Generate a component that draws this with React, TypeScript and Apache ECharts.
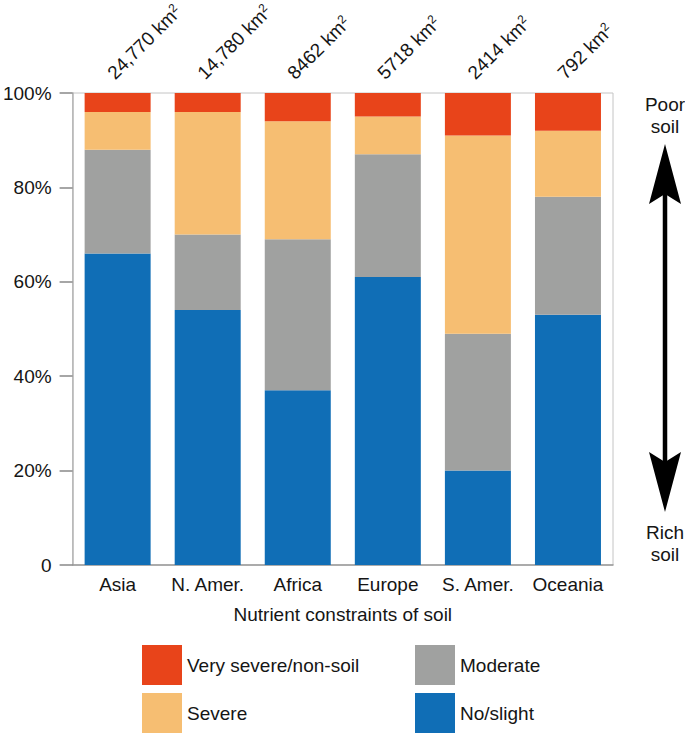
import React, { useEffect, useRef } from "react";
import * as echarts from "echarts";

const categories = ["Asia", "N. Amer.", "Africa", "Europe", "S. Amer.", "Oceania"];
const areaLabels = ["24,770", "14,780", "8462", "5718", "2414", "792"];
const noSlight = [66, 54, 37, 61, 20, 53];
const moderate = [22, 16, 32, 26, 29, 25];
const severe = [8, 26, 25, 8, 42, 14];
const verySevere = [4, 4, 6, 5, 9, 8];
const seriesNames = ["No/slight", "Moderate", "Severe", "Very severe/non-soil"];
const colors = ["#106EB6", "#A0A1A0", "#F6BE72", "#E8441A"];

const FONT = "'Liberation Sans', Arial, Helvetica, sans-serif";
const TXT = "#151515";

export default function App() {
  const ref = useRef<HTMLDivElement>(null);
  useEffect(() => {
    const chart = echarts.init(ref.current!, null, { renderer: "svg" });
    const values = [noSlight, moderate, severe, verySevere];
    const series: any[] = values.map((d, i) => ({
      name: seriesNames[i],
      type: "bar",
      stack: "total",
      data: d,
      barWidth: 66,
      itemStyle: { color: colors[i] },
      label:
        i === 3
          ? {
              show: true,
              position: "top",
              distance: 10,
              rotate: 45,
              align: "left",
              verticalAlign: "bottom",
              color: TXT,
              fontSize: 19,
              fontFamily: FONT,
              lineHeight: 20,
              formatter: (p: any) => `${areaLabels[p.dataIndex]} km{sup|2}`,
              rich: {
                sup: { fontSize: 12, verticalAlign: "top", lineHeight: 20, color: TXT, fontFamily: FONT },
              },
            }
          : { show: false },
    }));

    const legendBase = {
      orient: "vertical",
      top: 645,
      height: 100,
      padding: 0,
      itemWidth: 40,
      itemHeight: 40,
      itemGap: 8,
      icon: "rect",
      textStyle: { fontSize: 19, color: TXT, fontFamily: FONT },
      selectedMode: false,
    };

    chart.setOption({
      animation: false,
      textStyle: { fontFamily: FONT, color: TXT },
      grid: {
        left: 70.5,
        right: 72,
        top: 93,
        bottom: 169,
        show: true,
        borderColor: "#c4c4c4",
        borderWidth: 1,
      },
      legend: [
        { ...legendBase, data: ["Very severe/non-soil", "Severe"], left: 142 },
        { ...legendBase, data: ["Moderate", "No/slight"], left: 415 },
      ],
      xAxis: {
        type: "category",
        data: categories,
        axisTick: { show: false },
        axisLine: { lineStyle: { color: "#999", width: 1.5 } },
        axisLabel: { fontSize: 19, color: TXT, margin: 10, fontFamily: FONT, interval: 0 },
        name: "Nutrient constraints of soil",
        nameLocation: "middle",
        nameGap: 40,
        nameTextStyle: { fontSize: 19, color: TXT, fontFamily: FONT },
      },
      yAxis: {
        type: "value",
        min: 0,
        max: 100,
        interval: 20,
        splitLine: { show: false },
        axisLine: { show: true, lineStyle: { color: "#b5b5b5", width: 1.5 } },
        axisTick: { show: true, length: 13, lineStyle: { color: "#888", width: 1.5 } },
        axisLabel: {
          fontSize: 19,
          color: TXT,
          margin: 21,
          fontFamily: FONT,
          formatter: (v: number) => (v === 0 ? "0" : `${v}%`),
        },
      },
      graphic: [
        {
          type: "text",
          x: 665,
          y: 115,
          style: {
            text: "Poor\nsoil",
            fontSize: 19,
            lineHeight: 22,
            fontFamily: FONT,
            fill: TXT,
            align: "center",
            verticalAlign: "middle",
          },
        },
        {
          type: "text",
          x: 665,
          y: 543,
          style: {
            text: "Rich\nsoil",
            fontSize: 19,
            lineHeight: 22,
            fontFamily: FONT,
            fill: TXT,
            align: "center",
            verticalAlign: "middle",
          },
        },
        {
          type: "line",
          shape: { x1: 665, y1: 190, x2: 665, y2: 466 },
          style: { stroke: "#000", lineWidth: 4.5 },
        },
        {
          type: "polygon",
          shape: { points: [[665, 144], [681, 204], [665, 194], [649, 204]] },
          style: { fill: "#000" },
        },
        {
          type: "polygon",
          shape: { points: [[665, 512], [681, 452], [665, 462], [649, 452]] },
          style: { fill: "#000" },
        },
      ],
      series,
    });
    return () => chart.dispose();
  }, []);
  return (
    <div
      ref={ref}
      style={{ position: "fixed", left: 0, top: 0, width: 685, height: 734, background: "#fff" }}
    />
  );
}
